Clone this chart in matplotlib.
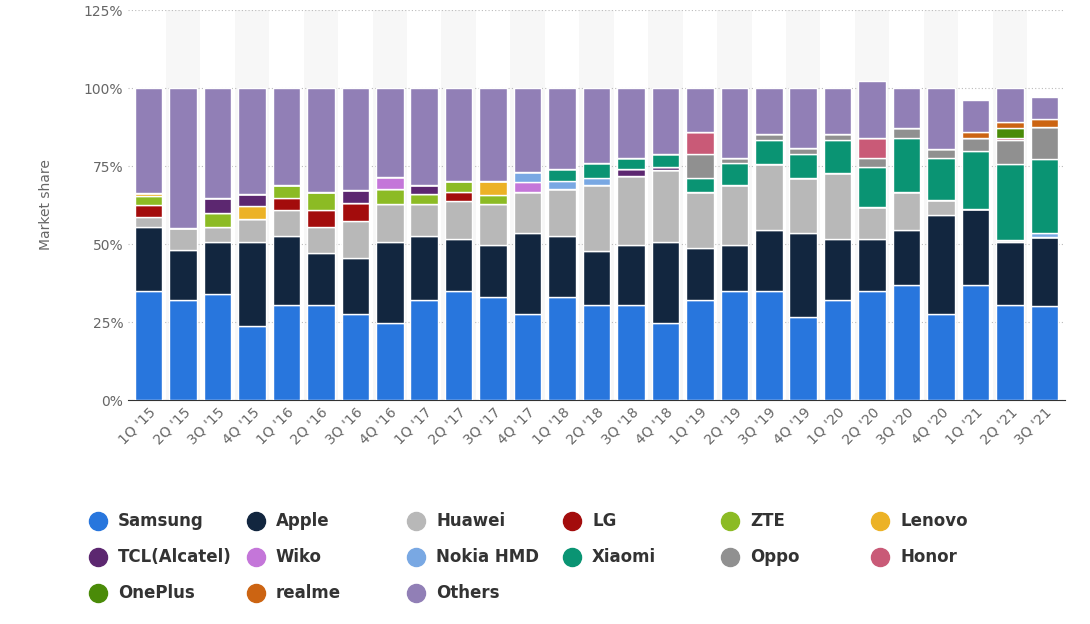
import matplotlib
matplotlib.use("Agg")
import matplotlib.pyplot as plt
from matplotlib.lines import Line2D
import numpy as np

quarters = ["1Q '15","2Q '15","3Q '15","4Q '15","1Q '16","2Q '16","3Q '16","4Q '16",
            "1Q '17","2Q '17","3Q '17","4Q '17","1Q '18","2Q '18","3Q '18","4Q '18",
            "1Q '19","2Q '19","3Q '19","4Q '19","1Q '20","2Q '20","3Q '20","4Q '20",
            "1Q '21","2Q '21","3Q '21"]
samsung = [35,32,34,23.8,30.4,30.4,27.5,24.7,32.2,35,33,27.5,33,30.4,30.4,24.7,32.2,35,35,26.7,32.2,35,36.9,27.5,36.9,30.4,30.1]
apple   = [20.5,16,16.7,27,22.2,16.6,18,26,20.4,16.7,16.8,26.1,19.6,17.4,19.4,26,16.6,14.8,19.6,26.9,19.5,16.7,17.7,31.8,24.2,20.3,22.1]
huawei  = [3,7,4.8,7.3,8.4,8.6,11.9,12.2,10.3,12.2,13.1,13.2,15.1,21.2,22,23.1,17.9,19.2,21.2,17.4,21.2,10.3,12.1,4.7,0,0.7,0]
lg      = [4,0,0,0,3.8,5.4,5.8,0,0,2.9,0,0,0,0,0,0,0,0,0,0,0,0,0,0,0,0,0]
zte     = [3,0,4.5,0,4.2,5.8,0,4.8,3,3.3,2.9,0,0,0,0,0,0,0,0,0,0,0,0,0,0,0,0]
lenovo  = [1,0,0,4,0,0,0,0,0,0,4.3,0,0,0,0,0,0,0,0,0,0,0,0,0,0,0,0]
tcl     = [0,0,4.7,3.8,0,0,4,0,3.1,0,0,0,0,0,2.2,1,0,0,0,0,0,0,0,0,0,0,0]
wiko    = [0,0,0,0,0,0,0,3.9,0,0,0,3.2,0,0,0,0,0,0,0,0,0,0,0,0,0,0,0]
nokia   = [0,0,0,0,0,0,0,0,0,0,0,3,2.4,2,0,0,0,0,0,0,0,0,0,0,0,0,1.2]
xiaomi  = [0,0,0,0,0,0,0,0,0,0,0,0,3.9,4.9,3.7,3.9,4.3,6.9,7.5,7.7,10.4,12.8,17.4,13.7,18.6,24.4,24]
oppo    = [0,0,0,0,0,0,0,0,0,0,0,0,0,0,0,0,7.7,1.8,1.9,2,1.9,2.9,3,2.9,4.4,7.4,10]
honor   = [0,0,0,0,0,0,0,0,0,0,0,0,0,0,0,0,7.3,0,0,0,0,6.4,0,0,0,0.8,0]
oneplus = [0]*25 + [3.1,0]
realme  = [0]*24 + [1.9,1.9,2.8]
others  = [33.5,45,35.3,34.2,31,33.2,32.8,28.4,31,29.9,29.9,27,26,24.1,22.3,21.3,14,22.3,14.8,19.3,14.8,18.2,12.9,19.4,10.1,11,6.9]

series = [("Samsung",samsung,"#2876dd"),("Apple",apple,"#12263f"),("Huawei",huawei,"#b8b8b8"),
          ("LG",lg,"#a30c0c"),("ZTE",zte,"#8cbb24"),("Lenovo",lenovo,"#ecb226"),
          ("TCL(Alcatel)",tcl,"#5c2770"),("Wiko",wiko,"#c476d9"),("Nokia HMD",nokia,"#79a8e3"),
          ("Xiaomi",xiaomi,"#0a9473"),("Oppo",oppo,"#909090"),("Honor",honor,"#c95a77"),
          ("OnePlus",oneplus,"#4a8b08"),("realme",realme,"#cc6412"),("Others",others,"#917fb6")]

fig = plt.figure(figsize=(10.9,6.24), dpi=100)
ax = fig.add_axes([128/1090, 1-400/624, (1065-128)/1090, 390/624])
x = np.arange(len(quarters))
for i in x:
    if i % 2 == 1:
        ax.axvspan(i-0.5, i+0.5, color="#f7f7f7", zorder=0, lw=0)
bottom = np.zeros(len(quarters))
for name, vals, col in series:
    v = np.array(vals, float)
    ax.bar(x, v, 0.8, bottom=bottom, color=col, edgecolor="white", linewidth=1, zorder=3)
    bottom += v
ax.set_xlim(-0.6, len(quarters)-0.4)
ax.set_ylim(0,125)
ax.set_yticks([0,25,50,75,100,125])
ax.set_yticklabels(["0%","25%","50%","75%","100%","125%"], color="#666666", fontsize=10)
ax.yaxis.grid(True, linestyle=(0,(1,2)), color="#bbbbbb", zorder=1)
ax.set_xticks(x)
ax.set_xticklabels(quarters, rotation=45, ha="right", rotation_mode="anchor", color="#666666", fontsize=10)
ax.tick_params(length=0)
for s in ["top","right","left"]:
    ax.spines[s].set_visible(False)
ax.spines["bottom"].set_color("#333333")
ax.set_ylabel("Market share", color="#666666", fontsize=10, labelpad=22)

col_x = [98, 256, 416, 572, 730, 880]
row_y = [521, 557, 593]
for k, (name, _, col) in enumerate(series):
    r, c = divmod(k, 6)
    px, py = col_x[c], row_y[r]
    fig.add_artist(Line2D([px/1090], [1-py/624], marker="o", markersize=13, color=col, ls="",
                          transform=fig.transFigure))
    fig.text((px+20)/1090, 1-py/624, name, fontsize=12, fontweight="bold", color="#333333",
             va="center", ha="left")
fig.savefig("out.png")
